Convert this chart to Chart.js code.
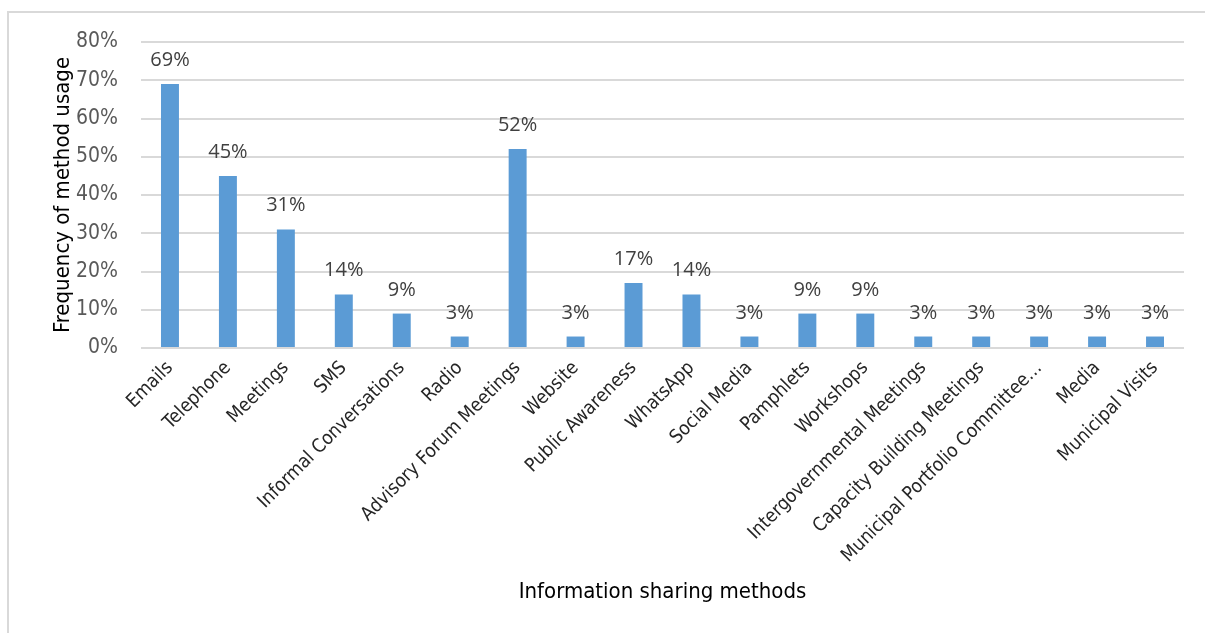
<!DOCTYPE html>
<html>
<head>
<meta charset="utf-8">
<script src="https://cdn.jsdelivr.net/npm/chart.js@4.4.1/dist/chart.umd.min.js"></script>
<style>
    html,body{margin:0;padding:0;background:#fff;overflow:hidden;}
    #frame{position:absolute;left:7px;top:11px;width:1400px;height:800px;border:2px solid #d9d9d9;}
    #wrap{position:absolute;left:0;top:0;width:1205px;height:633px;}
</style>
</head>
<body>
<div id="frame"></div>
<div id="wrap"><canvas id="mainChart" width="1205" height="633"></canvas></div>
<script>
// methods and their usage share (percent)
const methods = ["Emails","Telephone","Meetings","SMS","Informal Conversations","Radio",
    "Advisory Forum Meetings","Website","Public Awareness","WhatsApp","Social Media",
    "Pamphlets","Workshops","Intergovernmental Meetings","Capacity Building Meetings",
    "Municipal Portfolio Committee…","Media","Municipal Visits"];
const usage = [69,45,31,14,9,3,52,3,17,14,3,9,9,3,3,3,3,3];
const yTicks = [0,10,20,30,40,50,60,70,80];

const narrow = "'Liberation Sans Narrow','DejaVu Sans Condensed',sans-serif";

// writes value above every bar
const barLabels = {
    id: "barLabels",
    afterDatasetsDraw(chart){
        const ctx = chart.ctx;
        const meta = chart.getDatasetMeta(0);
        ctx.save();
        ctx.font = "20px 'Open Sans', sans-serif";
        ctx.fillStyle = "#404040";
        ctx.textAlign = "center";
        ctx.textBaseline = "alphabetic";
        meta.data.forEach(function(bar, i){
            ctx.fillText(usage[i] + "%", bar.x, bar.y - 18);
        });
        ctx.restore();
    }
};

let canvas_1 = document.getElementById("mainChart");
new Chart(canvas_1, {
    type: 'bar',
    data: {
        labels: methods,
        datasets: [{
            data: usage,
            backgroundColor: "#5b9bd5",
            barPercentage: 0.31,
            categoryPercentage: 1
        }]
    },
    options: {
        responsive: false,
        animation: false,
        layout: { padding: { left: 50, top: 42, right: 21, bottom: 28 } },
        plugins: {
            legend: { display: false },
            tooltip: { enabled: false }
        },
        scales: {
            x: {
                grid: { display: false, drawTicks: false },
                border: { display: false },
                ticks: {
                    color: "#262626",
                    font: { family: narrow, size: 19 },
                    maxRotation: 45,
                    minRotation: 45,
                    padding: 9,
                    autoSkip: false
                },
                title: {
                    display: true,
                    text: "Information sharing methods",
                    color: "#000",
                    font: { family: narrow, size: 22 },
                    padding: 0
                },
                afterFit: function(scale){ scale.height = 633 - 348 - 28; }
            },
            y: {
                min: 0,
                max: 80,
                afterBuildTicks: function(scale){
                    scale.ticks = yTicks.map(function(v){ return { value: v }; });
                },
                grid: { color: "#d9d9d9", lineWidth: 2, drawTicks: false },
                border: { display: false },
                ticks: {
                    color: "#595959",
                    font: { family: narrow, size: 21 },
                    padding: 23,
                    callback: function(v){ return v + "%"; }
                },
                title: {
                    display: true,
                    text: "Frequency of method usage",
                    color: "#000",
                    font: { family: narrow, size: 22 },
                    padding: 0
                },
                afterFit: function(scale){ scale.width = 141 - 50; }
            }
        }
    },
    plugins: [barLabels]
});
</script>
</body>
</html>
